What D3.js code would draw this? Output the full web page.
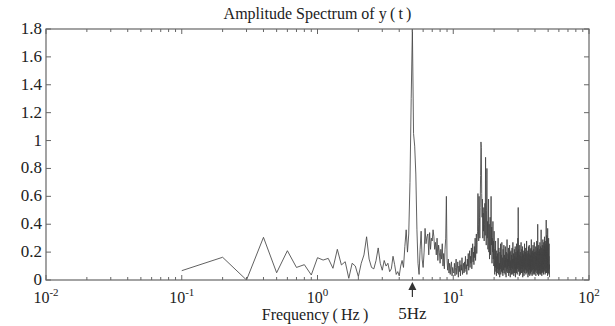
<!DOCTYPE html>
<html>
<head>
<meta charset="utf-8">
<script src="https://cdn.jsdelivr.net/npm/d3@7"></script>
<style>
  body { margin: 0; background: #fff; }
  text { font-family: "Liberation Serif", "Times New Roman", serif; fill: #222; }
</style>
</head>
<body>
<div id="chart"></div>
<script>
// amplitude spectrum, df = 0.1 Hz, first bin at 0.1 Hz
const df = 0.1;
const amp = [
  0.067, 0.163, 0.00, 0.306, 0.052, 0.21, 0.09, 0.11, 0.036, 0.16,
  0.143, 0.155, 0.084, 0.22, 0.108, 0.131, 0.012, 0.12, 0.10, 0.024,
  0.12, 0.18, 0.31, 0.15, 0.09, 0.08, 0.14, 0.23, 0.12, 0.07,
  0.14, 0.10, 0.12, 0.06, 0.08, 0.17, 0.11, 0.04, 0.06, 0.03,
  0.10, 0.14, 0.09, 0.24, 0.36, 0.20, 0.33, 0.70, 1.30, 1.80,
  1.05, 0.96, 0.76, 0.36, 0.12, 0.04, 0.22, 0.35, 0.15, 0.09,
  0.20, 0.37, 0.26, 0.31, 0.33, 0.18, 0.34, 0.22, 0.30, 0.28,
  0.36, 0.31, 0.22, 0.27, 0.18, 0.30, 0.14, 0.25, 0.20, 0.12,
  0.22, 0.15, 0.26, 0.10, 0.19, 0.08, 0.22, 0.30, 0.60, 0.14,
  0.07, 0.15, 0.05, 0.12, 0.04, 0.10, 0.13, 0.03, 0.09, 0.06,
  0.05, 0.12, 0.03, 0.09, 0.15, 0.04, 0.08, 0.13, 0.02, 0.10,
  0.06, 0.14, 0.03, 0.11, 0.07, 0.16, 0.04, 0.09, 0.12, 0.05,
  0.13, 0.06, 0.17, 0.08, 0.11, 0.04, 0.15, 0.10, 0.19, 0.07,
  0.14, 0.21, 0.09, 0.17, 0.12, 0.23, 0.08, 0.18, 0.26, 0.13,
  0.20, 0.11, 0.24, 0.16, 0.30, 0.14, 0.22, 0.33, 0.19, 0.27,
  0.35, 0.62, 0.40, 0.28, 0.60, 0.45, 0.30, 0.52, 0.75, 0.99,
  0.95, 0.62, 0.45, 0.58, 0.30, 0.48, 0.35, 0.52, 0.28, 0.40,
  0.55, 0.32, 0.88, 0.45, 0.25, 0.50, 0.80, 0.30, 0.42, 0.22,
  0.35, 0.58, 0.20, 0.40, 0.15, 0.30, 0.45, 0.18, 0.33, 0.60,
  0.25, 0.38, 0.12, 0.30, 0.20, 0.42, 0.15, 0.28, 0.10, 0.35,
  0.14, 0.04, 0.22, 0.09, 0.28, 0.06, 0.17, 0.03, 0.21, 0.11,
  0.05, 0.19, 0.08, 0.30, 0.04, 0.15, 0.23, 0.07, 0.12, 0.02,
  0.20, 0.08, 0.26, 0.04, 0.13, 0.18, 0.06, 0.27, 0.10, 0.05,
  0.16, 0.03, 0.22, 0.11, 0.07, 0.25, 0.05, 0.18, 0.09, 0.14,
  0.04, 0.24, 0.09, 0.16, 0.02, 0.20, 0.12, 0.06, 0.29, 0.08,
  0.15, 0.05, 0.19, 0.10, 0.23, 0.03, 0.13, 0.17, 0.05, 0.25,
  0.09, 0.20, 0.02, 0.14, 0.07, 0.21, 0.11, 0.04, 0.18, 0.09,
  0.23, 0.04, 0.15, 0.08, 0.27, 0.05, 0.12, 0.19, 0.03, 0.15,
  0.10, 0.22, 0.05, 0.17, 0.08, 0.24, 0.02, 0.14, 0.20, 0.07,
  0.16, 0.05, 0.26, 0.09, 0.13, 0.04, 0.21, 0.08, 0.30, 0.11,
  0.52, 0.15, 0.06, 0.22, 0.09, 0.18, 0.03, 0.14, 0.25, 0.07,
  0.11, 0.20, 0.04, 0.17, 0.08, 0.27, 0.05, 0.15, 0.10, 0.22,
  0.05, 0.16, 0.08, 0.24, 0.02, 0.13, 0.19, 0.06, 0.18, 0.09,
  0.21, 0.03, 0.15, 0.10, 0.26, 0.05, 0.16, 0.07, 0.20, 0.08,
  0.13, 0.23, 0.04, 0.18, 0.07, 0.14, 0.28, 0.05, 0.11, 0.19,
  0.06, 0.15, 0.09, 0.21, 0.02, 0.17, 0.10, 0.24, 0.04, 0.14,
  0.19, 0.07, 0.25, 0.08, 0.15, 0.03, 0.18, 0.10, 0.22, 0.05,
  0.12, 0.18, 0.04, 0.23, 0.07, 0.29, 0.06, 0.15, 0.09, 0.20,
  0.03, 0.14, 0.21, 0.07, 0.17, 0.10, 0.25, 0.04, 0.13, 0.19,
  0.08, 0.22, 0.05, 0.15, 0.27, 0.04, 0.14, 0.20, 0.07, 0.12,
  0.20, 0.06, 0.17, 0.10, 0.24, 0.03, 0.14, 0.21, 0.07, 0.16,
  0.10, 0.28, 0.05, 0.19, 0.08, 0.15, 0.23, 0.04, 0.40, 0.12,
  0.06, 0.21, 0.09, 0.16, 0.03, 0.25, 0.11, 0.18, 0.05, 0.15,
  0.22, 0.07, 0.20, 0.04, 0.27, 0.10, 0.16, 0.07, 0.24, 0.04,
  0.13, 0.19, 0.08, 0.36, 0.05, 0.17, 0.11, 0.23, 0.03, 0.20,
  0.09, 0.16, 0.25, 0.06, 0.20, 0.12, 0.29, 0.05, 0.17, 0.08,
  0.22, 0.04, 0.15, 0.27, 0.08, 0.19, 0.06, 0.25, 0.11, 0.31,
  0.07, 0.23, 0.10, 0.18, 0.04, 0.28, 0.13, 0.21, 0.05, 0.16,
  0.26, 0.08, 0.20, 0.43, 0.09, 0.24, 0.05, 0.32, 0.12, 0.18,
  0.06, 0.29, 0.14, 0.22, 0.03, 0.37, 0.09, 0.25, 0.13, 0.19,
  0.05, 0.23, 0.10, 0.30, 0.07, 0.17, 0.04, 0.26, 0.13, 0.08,
  0.11, 0.02
];
const xDecades = [-2, -1, 0, 1, 2];
const yTicks = [0, 0.2, 0.4, 0.6, 0.8, 1, 1.2, 1.4, 1.6, 1.8];
const markFreq = 5;

const width = 615, height = 326;
const m = { left: 46, right: 589, top: 29, bottom: 280 };

const svg = d3.select("#chart").append("svg")
  .attr("width", width)
  .attr("height", height);

const x = d3.scaleLog().domain([0.01, 100]).range([m.left, m.right]);
const y = d3.scaleLinear().domain([0, 1.8]).range([m.bottom, m.top]);

const data = amp.map((v, i) => ({ f: (i + 1) * df, v: v }));

svg.append("clipPath").attr("id", "clip")
  .append("rect")
  .attr("x", m.left).attr("y", m.top)
  .attr("width", m.right - m.left).attr("height", m.bottom - m.top);

// spectrum line
const line = d3.line().x(d => x(d.f)).y(d => y(d.v));
svg.append("path")
  .datum(data)
  .attr("clip-path", "url(#clip)")
  .attr("fill", "none")
  .attr("stroke", "#444")
  .attr("stroke-width", 0.85)
  .attr("d", line);

// frame
svg.append("rect")
  .attr("x", m.left).attr("y", m.top)
  .attr("width", m.right - m.left).attr("height", m.bottom - m.top)
  .attr("fill", "none")
  .attr("stroke", "#666")
  .attr("stroke-width", 1.2);

// x ticks, inward on bottom and top
const xt = x.ticks();
const isMajor = d => Math.abs(Math.log10(d) - Math.round(Math.log10(d))) < 1e-9;
const g = svg.append("g").attr("stroke", "#666").attr("stroke-width", 1);
g.selectAll(".xb").data(xt).enter().append("line")
  .attr("x1", d => x(d)).attr("x2", d => x(d))
  .attr("y1", m.bottom).attr("y2", d => m.bottom - (isMajor(d) ? 5 : 3));
g.selectAll(".xt").data(xt).enter().append("line")
  .attr("x1", d => x(d)).attr("x2", d => x(d))
  .attr("y1", m.top).attr("y2", d => m.top + (isMajor(d) ? 5 : 3));
// y ticks, inward on left and right
g.selectAll(".yl").data(yTicks).enter().append("line")
  .attr("x1", m.left).attr("x2", m.left + 5)
  .attr("y1", d => y(d)).attr("y2", d => y(d));
g.selectAll(".yr").data(yTicks).enter().append("line")
  .attr("x1", m.right).attr("x2", m.right - 5)
  .attr("y1", d => y(d)).attr("y2", d => y(d));

// y labels
svg.selectAll(".ylab").data(yTicks).enter().append("text")
  .attr("x", m.left - 4)
  .attr("y", d => y(d) + 5)
  .attr("text-anchor", "end")
  .style("font-size", "17px")
  .text(d => String(+d.toFixed(1)));

// x labels 10^k
const xl = svg.selectAll(".xlab").data(xDecades).enter().append("text")
  .attr("x", d => x(Math.pow(10, d)))
  .attr("y", 303)
  .attr("text-anchor", "middle")
  .style("font-size", "16px");
xl.append("tspan").text("10");
xl.append("tspan")
  .attr("dy", -7)
  .style("font-size", "11px")
  .text(d => d < 0 ? "-" + Math.abs(d) : String(d));

// title and axis label
svg.append("text")
  .attr("x", (m.left + m.right) / 2)
  .attr("y", 19)
  .attr("text-anchor", "middle")
  .style("font-size", "16px")
  .text("Amplitude Spectrum of y\u2009(\u2009t\u2009)");

svg.append("text")
  .attr("x", 315)
  .attr("y", 320)
  .attr("text-anchor", "middle")
  .style("font-size", "16px")
  .text("Frequency\u2009(\u2009Hz\u2009)");

// 5 Hz marker
const x5 = x(markFreq);
svg.append("path")
  .attr("d", `M${x5},282L${x5 - 4},290L${x5 + 4},290Z`)
  .attr("fill", "#333");
svg.append("line")
  .attr("x1", x5).attr("x2", x5)
  .attr("y1", 289).attr("y2", 297)
  .attr("stroke", "#333").attr("stroke-width", 1.2);
svg.append("text")
  .attr("x", x5)
  .attr("y", 319)
  .attr("text-anchor", "middle")
  .style("font-size", "17px")
  .text(markFreq + "Hz");
</script>
</body>
</html>
